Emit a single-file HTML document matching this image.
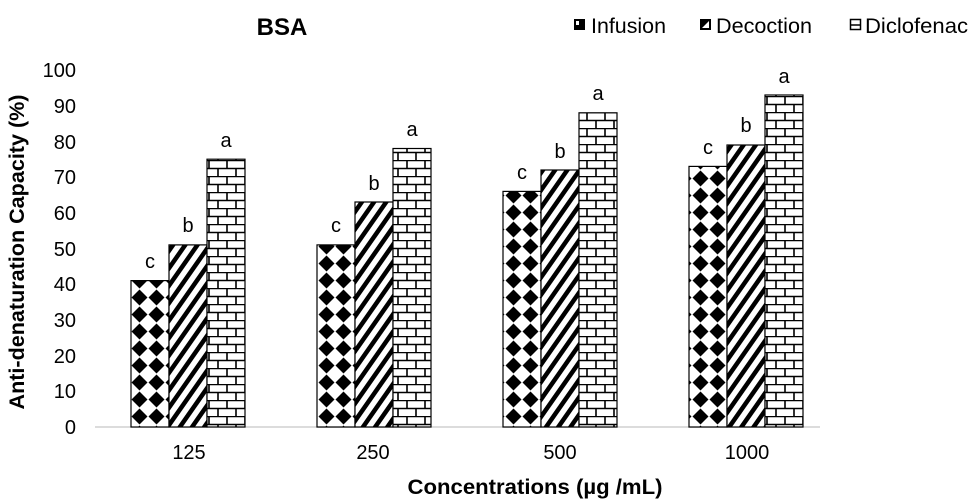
<!DOCTYPE html>
<html><head><meta charset="utf-8"><style>
body{margin:0;background:#fff;}
svg{display:block;font-family:"Liberation Sans",Arial,sans-serif;}
</style></head><body>
<svg width="970" height="500" viewBox="0 0 970 500">
<defs>
<pattern id="dia" width="17" height="17" patternUnits="userSpaceOnUse" x="131" y="0">
<rect width="17" height="17" fill="#fff"/>
<polygon points="8.5,0.5 16.5,8.5 8.5,16.5 0.5,8.5" fill="#000"/>
</pattern>
<pattern id="str" width="10" height="10" patternUnits="userSpaceOnUse" patternTransform="rotate(35)">
<rect width="10" height="10" fill="#fff"/>
<rect width="4.5" height="10" fill="#000"/>
</pattern>
<pattern id="brk" width="18" height="16" patternUnits="userSpaceOnUse" x="208" y="0">
<rect width="18" height="16" fill="#fff"/>
<path d="M0,0.5H18M0,8.5H18M1,0V8M10,8V16" stroke="#000" stroke-width="1.6" fill="none"/>
</pattern>
</defs>
<text x="282" y="35" font-size="24" font-weight="bold" text-anchor="middle">BSA</text>
<rect x="574" y="19" width="11" height="11" fill="#000"/><rect x="576" y="21" width="3" height="4" fill="#fff"/>
<text x="591" y="33" font-size="21" textLength="75" lengthAdjust="spacingAndGlyphs">Infusion</text>
<rect x="700" y="19" width="11" height="11" fill="#000"/><polygon points="702,28 709,21 709,28" fill="#fff"/>
<text x="716" y="33" font-size="21" textLength="96" lengthAdjust="spacingAndGlyphs">Decoction</text>
<rect x="850.5" y="19.5" width="10" height="10" fill="#fff" stroke="#000" stroke-width="1.5"/><line x1="851" y1="25" x2="860" y2="25" stroke="#000" stroke-width="1.5"/>
<text x="865" y="33" font-size="21" textLength="103" lengthAdjust="spacingAndGlyphs">Diclofenac</text>
<g font-size="20" text-anchor="end">
<text x="76" y="434">0</text><text x="76" y="398">10</text><text x="76" y="363">20</text><text x="76" y="327">30</text><text x="76" y="291">40</text><text x="76" y="256">50</text><text x="76" y="220">60</text><text x="76" y="184">70</text><text x="76" y="149">80</text><text x="76" y="113">90</text><text x="76" y="77">100</text>
</g>
<text transform="translate(24,252) rotate(-90)" font-size="21" font-weight="bold" text-anchor="middle" textLength="315" lengthAdjust="spacingAndGlyphs">Anti-denaturation Capacity  (%)</text>
<line x1="95" y1="427" x2="820" y2="427" stroke="#d0d0d0" stroke-width="1.5"/>
<g stroke="#000" stroke-width="1.2">
<rect x="131" y="280.6" width="38" height="146.4" fill="url(#dia)"/>
<rect x="169" y="244.9" width="38" height="182.1" fill="url(#str)"/>
<rect x="207" y="159.2" width="38" height="267.8" fill="url(#brk)"/>
<rect x="317" y="244.9" width="38" height="182.1" fill="url(#dia)"/>
<rect x="355" y="202" width="38" height="225" fill="url(#str)"/>
<rect x="393" y="148.5" width="38" height="278.5" fill="url(#brk)"/>
<rect x="503" y="191.4" width="38" height="235.6" fill="url(#dia)"/>
<rect x="541" y="170" width="38" height="257" fill="url(#str)"/>
<rect x="579" y="112.8" width="38" height="314.2" fill="url(#brk)"/>
<rect x="689" y="166.4" width="38" height="260.6" fill="url(#dia)"/>
<rect x="727" y="145" width="38" height="282" fill="url(#str)"/>
<rect x="765" y="95" width="38" height="332" fill="url(#brk)"/>
</g>
<g font-size="20" text-anchor="middle">
<text x="150" y="268">c</text><text x="188" y="232">b</text><text x="226" y="147">a</text>
<text x="336" y="232">c</text><text x="374" y="190">b</text><text x="412" y="136">a</text>
<text x="522" y="179">c</text><text x="560" y="158">b</text><text x="598" y="100">a</text>
<text x="708" y="154">c</text><text x="746" y="132">b</text><text x="784" y="83">a</text>
</g>
<g font-size="20" text-anchor="middle">
<text x="189" y="459">125</text><text x="373" y="459">250</text><text x="560" y="459">500</text><text x="747" y="459">1000</text>
</g>
<text x="535" y="494" font-size="21" font-weight="bold" text-anchor="middle" textLength="255" lengthAdjust="spacingAndGlyphs">Concentrations (µg /mL)</text>
</svg>
</body></html>
